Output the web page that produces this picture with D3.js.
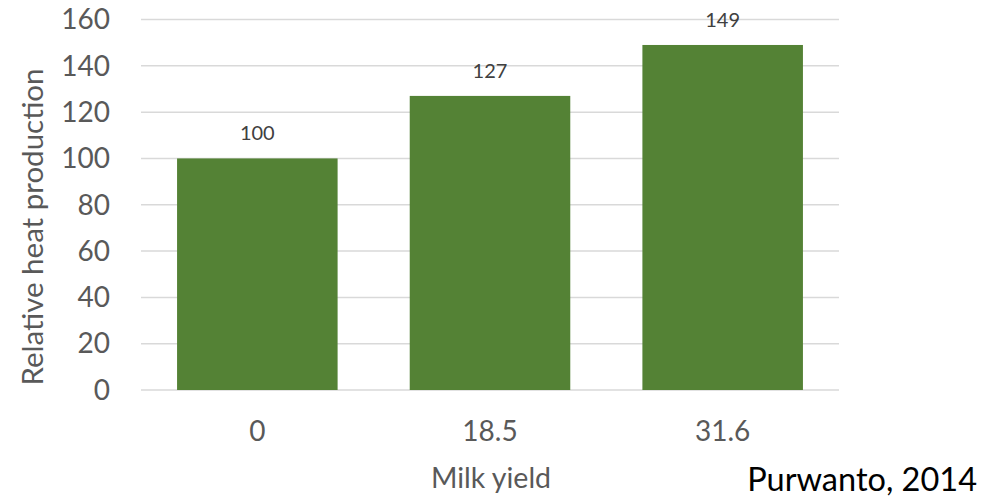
<!DOCTYPE html>
<html>
<head>
<meta charset="utf-8">
<script src="https://cdn.jsdelivr.net/npm/d3@7"></script>
<style>
  html, body { margin: 0; padding: 0; background: #fff; }
  svg { display: block; font-family: Lato, "Open Sans", sans-serif; }
</style>
</head>
<body>
<svg id="chart" width="996" height="501"></svg>
<script>
// Relative heat production by milk yield
const categories = ["0", "18.5", "31.6"];
const values = [100, 127, 149];
const yTicks = [0, 20, 40, 60, 80, 100, 120, 140, 160];

const svg = d3.select("#chart");
const plot = { left: 141, right: 839, top: 19.5, bottom: 390 };

const x = d3.scaleBand()
  .domain(categories)
  .range([plot.left, plot.right])
  .paddingInner(0.31)
  .paddingOuter(0.155);

const y = d3.scaleLinear()
  .domain([0, 160])
  .range([plot.bottom, plot.top]);

// horizontal gridlines
svg.append("g")
  .selectAll("line")
  .data(yTicks)
  .join("line")
  .attr("x1", plot.left)
  .attr("x2", plot.right)
  .attr("y1", d => y(d))
  .attr("y2", d => y(d))
  .attr("stroke", "#d9d9d9")
  .attr("stroke-width", 1.5);

// y tick labels
svg.append("g")
  .selectAll("text")
  .data(yTicks)
  .join("text")
  .attr("x", 110)
  .attr("y", d => y(d))
  .attr("dy", "0.35em")
  .attr("text-anchor", "end")
  .attr("font-size", 28)
  .attr("fill", "#595959")
  .text(d => d);

// bars
svg.append("g")
  .selectAll("rect")
  .data(values)
  .join("rect")
  .attr("x", (d, i) => x(categories[i]))
  .attr("width", x.bandwidth())
  .attr("y", d => y(d))
  .attr("height", d => y(0) - y(d))
  .attr("fill", "#548235");

// value labels
svg.append("g")
  .selectAll("text")
  .data(values)
  .join("text")
  .attr("x", (d, i) => x(categories[i]) + x.bandwidth() / 2)
  .attr("y", d => y(d) - 18)
  .attr("text-anchor", "middle")
  .attr("font-size", 20)
  .attr("fill", "#404040")
  .text(d => d);

// x tick labels
svg.append("g")
  .selectAll("text")
  .data(categories)
  .join("text")
  .attr("x", d => x(d) + x.bandwidth() / 2)
  .attr("y", 441)
  .attr("text-anchor", "middle")
  .attr("font-size", 28)
  .attr("fill", "#595959")
  .text(d => d);

// axis titles
svg.append("text")
  .attr("x", 491)
  .attr("y", 488)
  .attr("text-anchor", "middle")
  .attr("font-size", 28.5)
  .attr("fill", "#595959")
  .text("Milk yield");

svg.append("text")
  .attr("transform", "translate(43,227) rotate(-90)")
  .attr("text-anchor", "middle")
  .attr("font-size", 29.5)
  .attr("fill", "#595959")
  .text("Relative heat production");

// source note
svg.append("text")
  .attr("x", 977)
  .attr("y", 491)
  .attr("text-anchor", "end")
  .attr("font-size", 32.5)
  .attr("fill", "#000")
  .text("Purwanto, 2014");
</script>
</body>
</html>
